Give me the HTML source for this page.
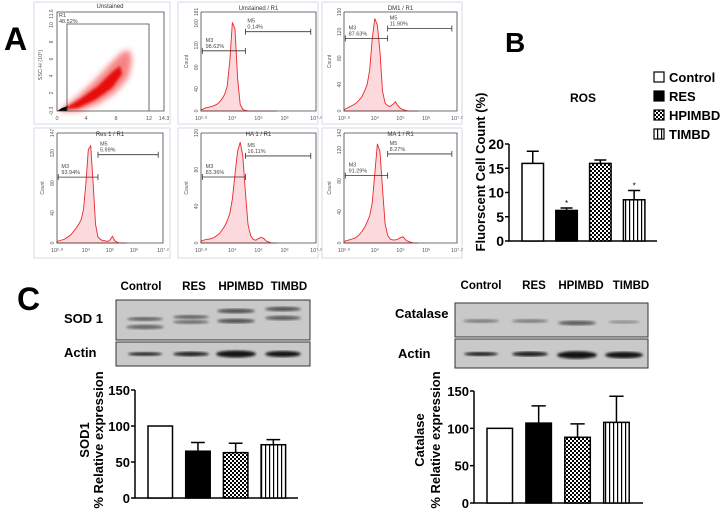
<!DOCTYPE html>
<html><head><meta charset="utf-8"><style>
html,body{margin:0;padding:0;background:#fff;width:720px;height:520px;overflow:hidden}
svg{display:block;font-family:"Liberation Sans",Arial,sans-serif}
</style></head><body>
<svg id="fig" width="720" height="520" viewBox="0 0 720 520" xmlns="http://www.w3.org/2000/svg">
<defs>
<pattern id="chk" width="4" height="4" patternUnits="userSpaceOnUse"><rect width="4" height="4" fill="#fff"/><rect width="2" height="2" fill="#000"/><rect x="2" y="2" width="2" height="2" fill="#000"/></pattern>
<pattern id="vstr" width="4" height="4" patternUnits="userSpaceOnUse"><rect width="4" height="4" fill="#fff"/><rect x="1" width="1.2" height="4" fill="#000"/></pattern>
<filter id="blur1"><feGaussianBlur stdDeviation="1.2"/></filter>
<filter id="blur3"><feGaussianBlur stdDeviation="3"/></filter>
</defs>
<g id="flow"></g>
<text x="4" y="50" font-size="32" font-weight="bold">A</text>
<text x="505" y="52" font-size="28" font-weight="bold">B</text>
<text x="17" y="310" font-size="32" font-weight="bold">C</text>
<g id="ros"></g>
<g id="blots"></g>
<g id="sod"></g>
<g id="cat"></g>
</svg>
<script>
const NS="http://www.w3.org/2000/svg";
function el(p,t,a,txt){const e=document.createElementNS(NS,t);for(const k in a)e.setAttribute(k,a[k]);if(txt!==undefined)e.textContent=txt;p.appendChild(e);return e;}

// ---- Chart data ----
const groups=["Control","RES","HPIMBD","TIMBD"];
const rosValues=[16,6.3,16,8.5];
const rosErr=[18.5,6.8,16.7,10.4];
const rosTicks=[0,5,10,15,20];
const sodValues=[100,65,63,74];
const sodErr=[100,77,76,81];
const catValues=[100,107,88,108];
const catErr=[100,130,106,143];
const relTicks=[0,50,100,150];
const fills=["#fff","#000","url(#chk)","url(#vstr)"];

// flow histogram counts, log10 positions 2.8..5.7 step 0.1
const histUnst=[2,4,6,7,8,10,12,16,22,30,45,90,162,150,60,12,3,1,0,0,0,0,0,0,0,0,0,0,0,0];
const histDM1=[2,4,6,8,10,13,17,22,30,40,62,110,140,130,90,30,12,8,7,10,14,8,4,2,1,0,0,0,0,0];
const histRes=[2,3,4,5,7,9,12,16,20,25,31,45,80,125,130,80,25,8,5,3,3,2,4,9,3,1,0,0,0,0];
const histHA=[2,3,4,4,5,6,8,10,14,18,24,32,48,75,100,110,95,55,20,8,4,3,5,6,5,2,1,0,0,0];
const histMA=[2,3,4,5,6,8,11,15,20,27,35,52,90,128,118,70,25,10,5,4,4,5,7,8,4,2,1,0,0,0];

// ---- Flow cytometry ----
const flowG=document.getElementById('flow');
const panels=[
 {f:[178,2,318,124],ax:[201,12,316,111],title:"Unstained / R1",ymax:181,yt:[0,40,80,120,160,181],h:histUnst,m3:"98.62%",m5:"0.14%",m3y:110,m5y:145},
 {f:[322,2,462,124],ax:[344,12,457,111],title:"DM1 / R1",ymax:150,yt:[0,40,80,120,150],h:histDM1,m3:"87.63%",m5:"11.90%",m3y:110,m5y:125},
 {f:[34,128,170,258],ax:[57,133,163,243],title:"Res 1 / R1",ymax:147,yt:[0,40,80,120,147],h:histRes,m3:"93.94%",m5:"5.99%",m3y:88,m5y:118},
 {f:[178,128,318,258],ax:[201,133,316,243],title:"HA 1 / R1",ymax:120,yt:[0,40,80,120],h:histHA,m3:"83.36%",m5:"16.11%",m3y:72,m5y:95},
 {f:[322,128,462,258],ax:[344,133,457,243],title:"MA 1 / R1",ymax:142,yt:[0,40,80,120,142],h:histMA,m3:"91.29%",m5:"8.27%",m3y:87,m5y:115}
];
const LOGMIN=2.8,LOGMAX=7.2;
panels.forEach((p,i)=>{
 const g=el(flowG,'g',{});
 
 
 el(g,'rect',{x:p.f[0],y:p.f[1],width:p.f[2]-p.f[0],height:p.f[3]-p.f[1],fill:'none',stroke:'#d4dde8','stroke-width':1});
 const [x0,y0,x1,y1]=p.ax;
 const sx=v=>x0+(v-LOGMIN)/(LOGMAX-LOGMIN)*(x1-x0);
 const sy=c=>y1-c/p.ymax*(y1-y0);
 el(g,'text',{x:(x0+x1)/2,y:p.f[1]+8,'font-size':6,'text-anchor':'middle',fill:'#333'},p.title);
 let d=`M${sx(LOGMIN)},${sy(0)}`;
 p.h.forEach((c,k)=>{d+=` L${sx(LOGMIN+k*0.1)},${sy(c)}`;});
 d+=` L${sx(LOGMIN+(p.h.length-1)*0.1)},${sy(0)} Z`;
 const hp=el(g,'path',{d:d,fill:'#fbd9dc',stroke:'#e8282d','stroke-width':0.9});
 
 
 el(g,'path',{d:`M${x0},${y0} V${y1} H${x1} V${y0} H${x0}`,fill:'none',stroke:'#444','stroke-width':0.8});
 p.yt.forEach(t=>{el(g,'text',{x:x0-3,y:sy(t),'font-size':5,fill:'#555',transform:`rotate(-90 ${x0-3} ${sy(t)})`,'text-anchor':'middle'},t);});
 el(g,'text',{x:x0-13,y:(y0+y1)/2,'font-size':5,fill:'#555',transform:`rotate(-90 ${x0-13} ${(y0+y1)/2})`,'text-anchor':'middle'},'Count');
 [[2.8,"10²·⁸"],[4,"10⁴"],[5,"10⁵"],[6,"10⁶"],[7.2,"10⁷·²"]].forEach(t=>{el(g,'text',{x:sx(t[0]),y:y1+9,'font-size':5.5,fill:'#555','text-anchor':'middle'},t[1]);});
 const mid=4.5;
 const m3Y=sy(p.m3y),m5Y=sy(p.m5y);
 el(g,'path',{d:`M${sx(2.85)},${m3Y-3}v6M${sx(2.85)},${m3Y}H${sx(mid)}M${sx(mid)},${m3Y-3}v6`,stroke:'#333','stroke-width':0.8,fill:'none'});
 el(g,'path',{d:`M${sx(mid)},${m5Y-3}v6M${sx(mid)},${m5Y}H${sx(7.0)}M${sx(7.0)},${m5Y-3}v6`,stroke:'#333','stroke-width':0.8,fill:'none'});
 el(g,'text',{x:sx(2.9)+2,y:m3Y-9,'font-size':5.5,fill:'#444'},'M3');
 el(g,'text',{x:sx(2.9)+2,y:m3Y-3,'font-size':5.5,fill:'#444'},p.m3);
 el(g,'text',{x:sx(mid)+2,y:m5Y-9,'font-size':5.5,fill:'#444'},'M5');
 el(g,'text',{x:sx(mid)+2,y:m5Y-3,'font-size':5.5,fill:'#444'},p.m5);
});
// scatter panel
(function(){
 const g=el(flowG,'g',{});
 
 
 el(g,'rect',{x:34,y:2,width:136,height:122,fill:'none',stroke:'#d4dde8'});
 el(g,'text',{x:110,y:8,'font-size':6,'text-anchor':'middle',fill:'#333'},'Unstained');
 el(g,'path',{d:'M60,110 L78,96 L95,80 L110,64 L122,52 L130,50 L132,62 L128,78 L116,92 L98,104 L80,111 L62,112 Z',fill:'#f03030','fill-opacity':0.6,filter:'url(#blur3)'});
 el(g,'path',{d:'M62,110 L80,99 L98,86 L112,72 L120,66 L122,74 L112,88 L95,100 L78,108 Z',fill:'#e81010',filter:'url(#blur1)'});
 el(g,'path',{d:'M57,111 L62,108 L68,106 L67,111 Z',fill:'#000'});
 el(g,'path',{d:'M57,12 V111 H164 V12 Z',fill:'none',stroke:'#444','stroke-width':0.8});
 el(g,'path',{d:'M67,111 V24 H149 V111',fill:'none',stroke:'#444','stroke-width':0.8});
 el(g,'text',{x:59,y:17,'font-size':5.5,fill:'#444'},'R1');
 el(g,'text',{x:59,y:23,'font-size':5.5,fill:'#444'},'48.52%');
 [["0",57],["4",86],["8",116],["12",149],["14.3",164]].forEach(t=>el(g,'text',{x:t[1],y:120,'font-size':5.5,fill:'#555','text-anchor':'middle'},t[0]));
 [["-0.3",111],["2",93],["4",76],["6",59],["8",42],["10",25],["11.6",14]].forEach(t=>el(g,'text',{x:53,y:t[1],'font-size':5,fill:'#555','text-anchor':'middle',transform:`rotate(-90 53 ${t[1]})`},t[0]));
 el(g,'text',{x:42,y:65,'font-size':5.5,fill:'#555','text-anchor':'middle',transform:'rotate(-90 42 65)'},'SSC-H (10⁶)');
})();

// ---- Bar chart helper ----
function barChart(gid,o){
 const g=document.getElementById(gid);
 const sy=v=>o.oy-(v-0)/(o.ymax)*(o.oy-o.ty);
 const bx=i=>o.bx[0]+i*o.step;
 el(g,'path',{d:`M${o.ox},${o.ty} V${o.oy} H${o.xe}`,stroke:'#000','stroke-width':1.5,fill:'none'});
 o.ticks.forEach(t=>{
  el(g,'line',{x1:o.ox-4,x2:o.ox,y1:sy(t),y2:sy(t),stroke:'#000','stroke-width':1.5});
  const tl=el(g,'text',{x:o.ox-5,y:sy(t)+5,'font-size':o.fs,'font-weight':'bold','text-anchor':'end'},t);
  
  
 });
 o.vals.forEach((v,i)=>{
  const x=bx(i),cx=x+o.bw/2;
  if(o.err[i]>v){
   el(g,'path',{d:`M${cx},${sy(v)} V${sy(o.err[i])} M${cx-o.bw*0.28},${sy(o.err[i])} H${cx+o.bw*0.28}`,stroke:'#000','stroke-width':1.5});
  }
  const r=el(g,'rect',{x:x,y:sy(v),width:o.bw,height:sy(0)-sy(v),fill:fills[i],stroke:'#000','stroke-width':1.5});
  
  
  if(o.star&&o.star[i]) el(g,'text',{x:cx,y:sy(o.err[i])-2,'font-size':8,'text-anchor':'middle'},'*');
 });
}
barChart('ros',{ox:509,oy:241,ty:144,xe:657,ymax:20,ticks:rosTicks,vals:rosValues,err:rosErr,bx:[522],step:33.8,bw:21.5,fs:14,star:[0,1,0,1]});
barChart('sod',{ox:135,oy:498,ty:390,xe:298,ymax:150,ticks:relTicks,vals:sodValues,err:sodErr,bx:[148],step:37.7,bw:24.5,fs:13});
barChart('cat',{ox:474,oy:503,ty:391,xe:643,ymax:150,ticks:relTicks,vals:catValues,err:catErr,bx:[487],step:38.9,bw:25.5,fs:13});

// ROS labels & legend
(function(){
 const g=document.getElementById('ros');
 el(g,'text',{x:583,y:102,'font-size':12,'font-weight':'bold','text-anchor':'middle'},'ROS');
 el(g,'text',{x:485,y:172,'font-size':13,'font-weight':'bold','text-anchor':'middle',transform:'rotate(-90 485 172)'},'Fluorscent Cell Count (%)');
 groups.forEach((n,i)=>{
  const y=72+i*19;
  const lg=el(g,'g',{});
  
  
  el(lg,'rect',{x:654,y:y,width:10,height:10,fill:fills[i],stroke:'#000','stroke-width':1.2});
  el(lg,'text',{x:669,y:y+10,'font-size':13,'font-weight':'bold'},n);
 });
})();
// axis titles for C charts
(function(){
 const s=document.getElementById('sod');
 el(s,'text',{x:89,y:440,'font-size':13,'font-weight':'bold','text-anchor':'middle',transform:'rotate(-90 89 440)'},'SOD1');
 el(s,'text',{x:103,y:440,'font-size':13,'font-weight':'bold','text-anchor':'middle',transform:'rotate(-90 103 440)'},'% Relative expression');
 const c=document.getElementById('cat');
 el(c,'text',{x:424,y:440,'font-size':13,'font-weight':'bold','text-anchor':'middle',transform:'rotate(-90 424 440)'},'Catalase');
 el(c,'text',{x:440,y:440,'font-size':13,'font-weight':'bold','text-anchor':'middle',transform:'rotate(-90 440 440)'},'% Relative expression');
})();

// ---- Western blots ----
(function(){
 const g=document.getElementById('blots');
 function lanes(xs,y,fs){xs.forEach((x,i)=>el(g,'text',{x:x,y:y,'font-size':fs,'font-weight':'bold','text-anchor':'middle'},groups[i]));}
 lanes([141,194,241,289],290,11.5);
 lanes([481,534,581,631],289,11.5);
 el(g,'text',{x:64,y:323,'font-size':13,'font-weight':'bold'},'SOD 1');
 el(g,'text',{x:64,y:357,'font-size':13,'font-weight':'bold'},'Actin');
 el(g,'text',{x:395,y:318,'font-size':13,'font-weight':'bold'},'Catalase');
 el(g,'text',{x:398,y:358,'font-size':13,'font-weight':'bold'},'Actin');
 function blot(x,y,w,h,bands){
  const b=el(g,'g',{});
  
  
  el(b,'rect',{x:x,y:y,width:w,height:h,fill:'#c9c9c9',stroke:'#333','stroke-width':1});
  bands.forEach(bd=>el(b,'ellipse',{cx:bd[0],cy:bd[1],rx:bd[2],ry:bd[3],fill:'#000','fill-opacity':bd[4],filter:'url(#blur1)'}));
 }
 blot(116,300,194,40,[[145,319,18,2,0.5],[145,327,19,2.2,0.5],[191,317,18,2,0.5],[191,322,18,2,0.45],[236,311,19,2.3,0.6],[236,321,19,2.3,0.6],[283,309,18,2.2,0.6],[283,318,18,2.2,0.55]]);
 blot(116,342,194,24,[[145,354,17,1.8,0.85],[191,354,18,2.2,0.85],[236,354,20,3.5,0.9],[283,354,18,3,0.9]]);
 blot(455,303,193,34,[[481,321,18,1.8,0.4],[530,321,18,1.8,0.4],[577,323,19,2.3,0.55],[624,322,16,1.6,0.3]]);
 blot(455,339,193,29,[[481,354,17,2,0.85],[530,354,18,2.5,0.85],[577,355,20,3.8,0.9],[624,355,19,3.3,0.9]]);
})();
</script>
</body></html>
